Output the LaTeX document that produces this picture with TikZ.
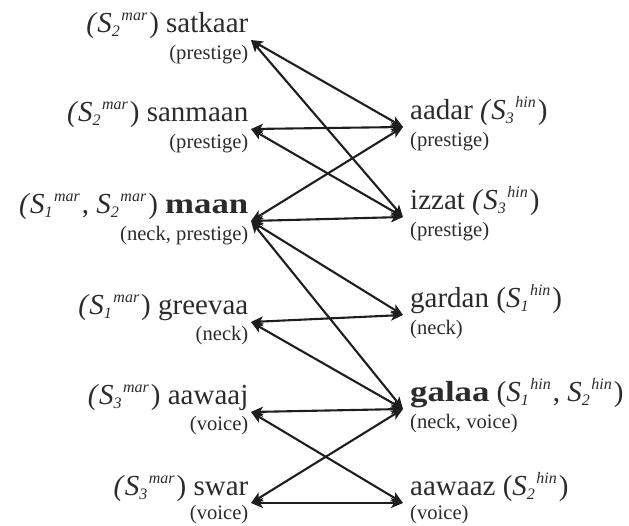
\documentclass[tikz,border=0pt]{standalone}
\usepackage{fontspec}
\setmainfont{Liberation Serif}
\usepackage{graphicx}
\usetikzlibrary{arrows.meta}
\definecolor{txt}{HTML}{2B2B2B}
\definecolor{lnc}{HTML}{1E1E1E}
\newcommand\subfnt{\fontsize{16}{16}\selectfont\itshape}
\newcommand\sns[2]{\textit{S}\raisebox{-4pt}{\subfnt #1}\kern1.5pt\raisebox{12pt}{\subfnt #2}\kern2pt}
\newcommand\bw[1]{\scalebox{1.2}[1]{\bfseries #1}}
\begin{document}
\begin{tikzpicture}[x=1pt,y=-1pt,
  >={Stealth[length=12pt,width=10pt,inset=3pt]},
  word/.style={inner xsep=2.5pt, inner ysep=0pt, text depth=7pt, text=txt,
    font=\fontsize{29}{30}\selectfont},
  lw/.style={word, anchor=south east},
  rw/.style={word, inner xsep=7pt, anchor=south west},
  gloss/.style={inner sep=0pt, text=txt, font=\fontsize{20.6}{22}\selectfont},
  lg/.style={gloss, anchor=base east},
  rg/.style={gloss, anchor=base west},
  link/.style={<->, line width=2.1pt, draw=lnc}]
\useasboundingbox (0,0) rectangle (629,525);

% left column
\node[lw] (satkaar) at (251,40)  {\textit{(}\sns{2}{mar}) satkaar};
\node[lw] (sanmaan) at (251,129) {\textit{(}\sns{2}{mar}) sanmaan};
\node[lw] (maan)    at (251,221) {\textit{(}\sns{1}{mar}, \sns{2}{mar}) \bw{maan}};
\node[lw] (greevaa) at (251,322) {\textit{(}\sns{1}{mar}) greevaa};
\node[lw] (aawaaj)  at (251,412) {\textit{(}\sns{3}{mar}) aawaaj};
\node[lw] (swar)    at (251,503) {\textit{(}\sns{3}{mar}) swar};

\node[lg] (satkaar-g) at ([xshift=-2.5pt,yshift=-27pt]satkaar.base east) {(prestige)};
\node[lg] (sanmaan-g) at ([xshift=-2.5pt,yshift=-27pt]sanmaan.base east) {(prestige)};
\node[lg] (maan-g)    at ([xshift=-2.5pt,yshift=-27pt]maan.base east)    {(neck, prestige)};
\node[lg] (greevaa-g) at ([xshift=-2.5pt,yshift=-26pt]greevaa.base east) {(neck)};
\node[lg] (aawaaj-g)  at ([xshift=-2.5pt,yshift=-26pt]aawaaj.base east)  {(voice)};
\node[lg] (swar-g)    at ([xshift=-2.5pt,yshift=-24pt]swar.base east)    {(voice)};

% right column
\node[rw] (aadar)  at (403,127) {aadar \textit{(}\sns{3}{hin})};
\node[rw] (izzat)  at (403,217) {izzat \textit{(}\sns{3}{hin})};
\node[rw] (gardan) at (403,315) {gardan (\sns{1}{hin})};
\node[rw] (galaa)  at (403,409) {\bw{galaa} (\sns{1}{hin}, \sns{2}{hin})};
\node[rw] (aawaaz) at (403,503) {aawaaz (\sns{2}{hin})};

\node[rg] (aadar-g)  at ([xshift=7pt,yshift=-27pt]aadar.base west)  {(prestige)};
\node[rg] (izzat-g)  at ([xshift=7pt,yshift=-27pt]izzat.base west)  {(prestige)};
\node[rg] (gardan-g) at ([xshift=7pt,yshift=-27pt]gardan.base west) {(neck)};
\node[rg] (galaa-g)  at ([xshift=7pt,yshift=-27pt]galaa.base west)  {(neck, voice)};
\node[rg] (aawaaz-g) at ([xshift=7pt,yshift=-24pt]aawaaz.base west) {(voice)};

% connectors
\draw[link] (satkaar.south east) -- (aadar.south west);
\draw[link] (satkaar.south east) -- (izzat.south west);
\draw[link] (sanmaan.south east) -- (aadar.south west);
\draw[link] (sanmaan.south east) -- (izzat.south west);
\draw[link] (maan.south east) -- (aadar.south west);
\draw[link] (maan.south east) -- (izzat.south west);
\draw[link] (maan.south east) -- (gardan.south west);
\draw[link] (maan.south east) -- (galaa.south west);
\draw[link] (greevaa.south east) -- (gardan.south west);
\draw[link] (greevaa.south east) -- (galaa.south west);
\draw[link] (aawaaj.south east) -- (galaa.south west);
\draw[link] (aawaaj.south east) -- (aawaaz.south west);
\draw[link] (swar.south east) -- (galaa.south west);
\draw[link] (swar.south east) -- (aawaaz.south west);
\end{tikzpicture}
\end{document}
